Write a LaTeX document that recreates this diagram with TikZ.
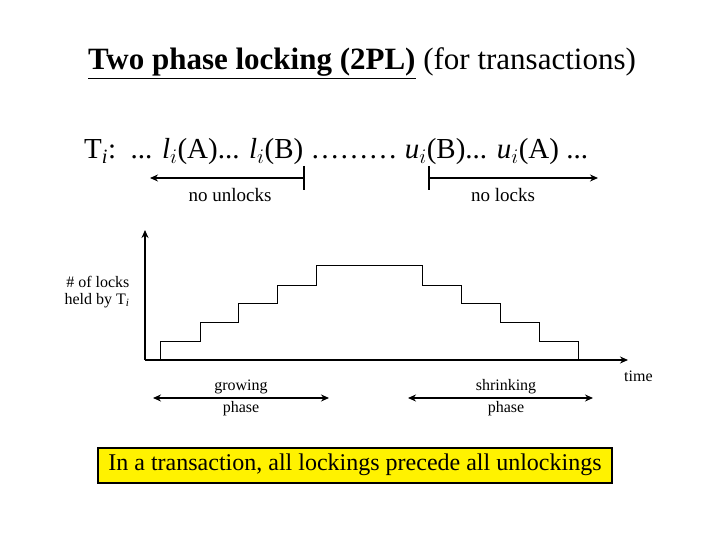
\documentclass[tikz,border=0pt]{standalone}
\usepackage{fontspec}
\setmainfont{Liberation Serif}
\usetikzlibrary{arrows.meta}
\begin{document}
\begin{tikzpicture}[x=1pt,y=-1pt,
  ax/.style={line width=2.2pt,-{Stealth[length=8pt,width=7pt]}},
  dbl/.style={line width=2.2pt,{Stealth[length=8pt,width=7pt]}-{Stealth[length=8pt,width=7pt]}},
  lbl/.style={inner sep=0pt,font=\fontsize{19}{21}\selectfont},
  small/.style={inner sep=0pt,font=\fontsize{16}{17}\selectfont,align=center}]
\useasboundingbox (0,0) rectangle (720,540);
\node[inner sep=0pt,font=\fontsize{31}{34}\selectfont] (title) at (362,63) {\textbf{\underline{Two phase locking (2PL)}} (for transactions)};
\node[inner sep=0pt,anchor=west,font=\fontsize{29}{32}\selectfont] (formula) at (84,152) {T$_{\mathit{i}}$:\ \ ... \textit{l}$_i$(A)... \textit{l}$_i$(B) ……… \textit{u}$_i$(B)... \textit{u}$_i$(A) ...};
% no unlocks
\coordinate (nu1) at (304,178); \coordinate (nu0) at (150,178);
\draw[ax] (nu1) -- (nu0);
\draw[line width=2.2pt] (304,166) -- (304,190);
\node[lbl] (nut) at (230,195) {no unlocks};
\coordinate (nl0) at (429,178); \coordinate (nl1) at (598,178);
\draw[ax] (nl0) -- (nl1);
\draw[line width=2.2pt] (429,166) -- (429,190);
\node[lbl] (nlt) at (503,195) {no locks};
% axes
\coordinate (o) at (145,360);
\coordinate (yt) at (145,230);
\coordinate (xt) at (628,360);
\draw[ax] (o) -- (yt);
\draw[ax] (o) -- (xt);
\node[small,anchor=west] (time) at (624,376) {time};
\node[small,align=right] (ylab) at (97,292) {\# of locks\\held by T$_{\mathit{i}}$};
\draw[line width=1pt] (160,360) -- (160,341) -- (200,341) -- (200,322) -- (238,322) -- (238,303) -- (277,303) -- (277,285) -- (316,285) -- (316,265) -- (422,265) -- (422,285) -- (461,285) -- (461,303) -- (500,303) -- (500,322) -- (539,322) -- (539,341) -- (578,341) -- (578,360);
% phases
\coordinate (g0) at (153,398); \coordinate (g1) at (329,398);
\draw[dbl] (g0) -- (g1);
\node[small] (gt) at (241,398) {growing\\[5pt]phase};
\coordinate (s0) at (408,398); \coordinate (s1) at (593,398);
\draw[dbl] (s0) -- (s1);
\node[small] (st) at (506,398) {shrinking\\[5pt]phase};
\node[draw,line width=2pt,fill=yellow,minimum width=514pt,minimum height=35pt,inner sep=0pt,font=\fontsize{24}{28}\selectfont] (box) at (355,465) {In a transaction, all lockings precede all unlockings};
\end{tikzpicture}
\end{document}
